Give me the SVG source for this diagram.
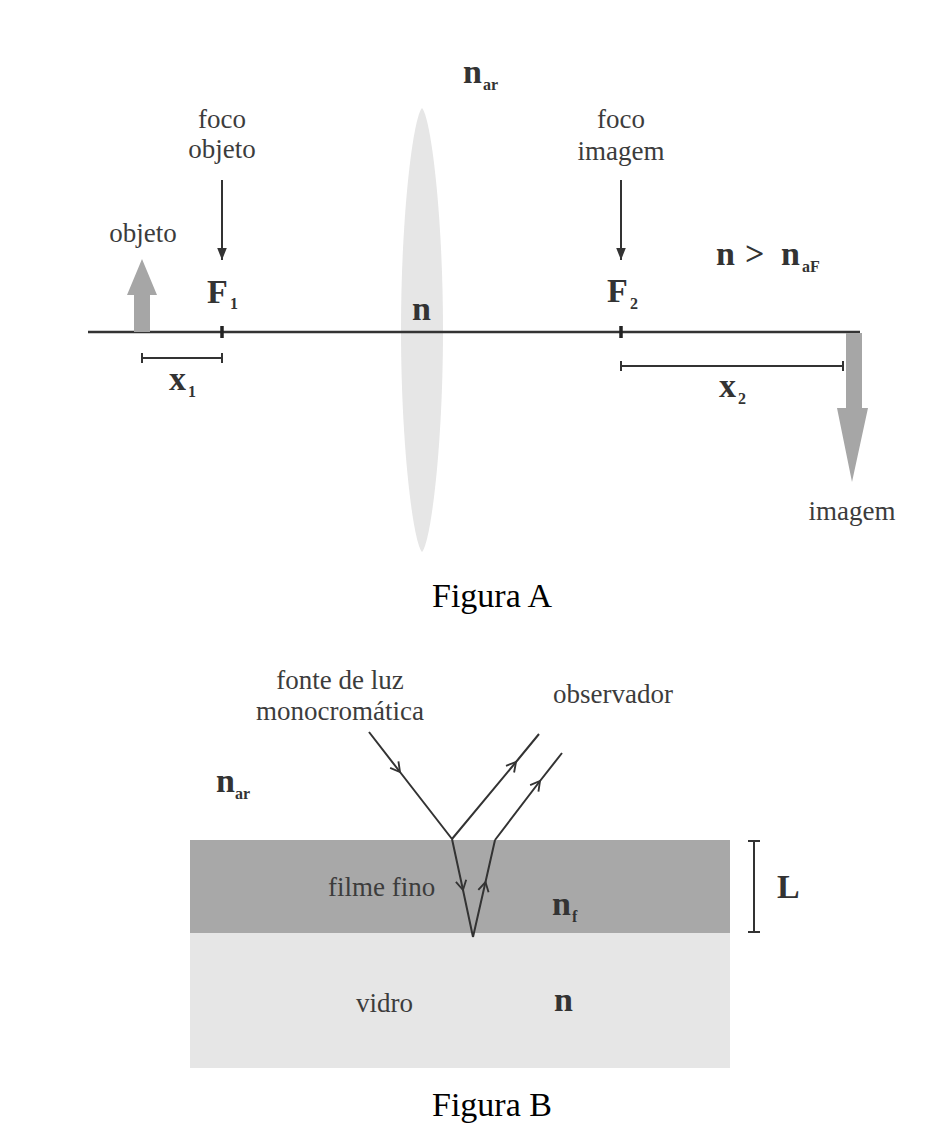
<svg xmlns="http://www.w3.org/2000/svg" width="942" height="1140" viewBox="0 0 942 1140">
<style>
.lbl{font-family:"Liberation Serif","Times New Roman",serif;font-size:27px;fill:#3c3c3c}
.b{font-family:"Liberation Serif","Times New Roman",serif;font-weight:bold;font-size:34px;fill:#333}
.sub{font-family:"Liberation Serif","Times New Roman",serif;font-weight:bold;font-size:16px;fill:#333}
.cap{font-family:"Liberation Serif","Times New Roman",serif;font-size:34px;fill:#000}
.ln{stroke:#333;stroke-width:2;fill:none}
.ray{stroke:#333;stroke-width:2;fill:none;marker-mid:url(#chev)}
.gray{fill:#a6a6a6}
</style>
<defs>
<marker id="tri" markerUnits="userSpaceOnUse" markerWidth="12" markerHeight="12" viewBox="-10 -5 10 10" refX="0" refY="0" orient="auto">
<path d="M-10,-4 L0,0 L-10,4 Z" fill="#333"/>
</marker>
<marker id="chev" markerUnits="userSpaceOnUse" markerWidth="14" markerHeight="14" viewBox="-10 -6 12 12" refX="0" refY="0" orient="auto">
<path d="M-8,-4.5 L0,0 L-8,4.5" fill="none" stroke="#333" stroke-width="1.6"/>
</marker>
</defs>
<rect width="942" height="1140" fill="#fff"/>

<!-- Figura A -->
<g id="lens">
<path d="M422,108 C431,118 443,215 443,330 C443,445 431,542 422,552 C413,542 401,445 401,330 C401,215 413,118 422,108 Z" fill="#e6e6e6"/>
</g>
<g id="axis">
<line x1="88" y1="332" x2="860" y2="332" stroke="#333" stroke-width="2.5"/>
<line x1="222" y1="326" x2="222" y2="338" stroke="#222" stroke-width="3.5"/>
<line x1="621" y1="326" x2="621" y2="338" stroke="#222" stroke-width="3.5"/>
</g>
<g id="objeto-arrow">
<path class="gray" d="M134,332 L134,295 L127,295 L142,259 L157,295 L150,295 L150,332 Z"/>
<text class="lbl" x="143" y="242" text-anchor="middle">objeto</text>
</g>
<g id="imagem-arrow">
<path class="gray" d="M846,333 L862,333 L862,408 L868,408 L852,482 L837,408 L846,408 Z"/>
<text class="lbl" x="852" y="520" text-anchor="middle">imagem</text>
</g>
<g id="n-ar-A">
<text class="b" x="463" y="83">n</text><text class="sub" x="483" y="90">ar</text>
</g>
<g id="foco-objeto">
<text class="lbl" x="222" y="128" text-anchor="middle">foco</text>
<text class="lbl" x="222" y="158" text-anchor="middle">objeto</text>
</g>
<g id="F1">
<text class="b" x="207" y="303">F</text><text class="sub" x="230" y="309">1</text>
</g>
<g id="lens-n">
<text class="b" x="412" y="320">n</text>
</g>
<g id="foco-imagem">
<text class="lbl" x="621" y="128" text-anchor="middle">foco</text>
<text class="lbl" x="621" y="160" text-anchor="middle">imagem</text>
</g>
<g id="F2">
<text class="b" x="607" y="302">F</text><text class="sub" x="630" y="309">2</text>
</g>
<g id="relation">
<text class="b" x="716" y="265">n</text>
<text class="b" x="745" y="265">&gt;</text>
<text class="b" x="781" y="265">n</text>
<text class="sub" x="802" y="272">aF</text>
</g>
<g id="x1">
<line class="ln" x1="142" y1="358" x2="222" y2="358"/>
<line class="ln" x1="142" y1="353" x2="142" y2="363"/>
<line class="ln" x1="222" y1="353" x2="222" y2="363"/>
<text class="b" x="169" y="390">x</text><text class="sub" x="188" y="397">1</text>
</g>
<g id="x2">
<line class="ln" x1="621" y1="366" x2="843" y2="366"/>
<line class="ln" x1="621" y1="361" x2="621" y2="371"/>
<line class="ln" x1="843" y1="361" x2="843" y2="371"/>
<text class="b" x="719" y="397">x</text><text class="sub" x="738" y="404">2</text>
</g>
<g id="caption-A">
<text class="cap" x="492" y="607" text-anchor="middle">Figura A</text>
</g>

<!-- Figura B -->
<g id="filme">
<rect x="190" y="840" width="540" height="93" fill="#a8a8a8"/>
<text class="lbl" x="328" y="896">filme fino</text>
<text class="b" x="552" y="915">n</text><text class="sub" x="572" y="922">f</text>
</g>
<g id="vidro">
<rect x="190" y="933" width="540" height="135" fill="#e6e6e6"/>
<text class="lbl" x="356" y="1012">vidro</text>
<text class="b" x="554" y="1011">n</text>
</g>
<g id="n-ar-B">
<text class="b" x="216" y="792">n</text><text class="sub" x="235" y="799">ar</text>
</g>
<g id="fonte">
<text class="lbl" x="340" y="689" text-anchor="middle">fonte de luz</text>
<text class="lbl" x="340" y="720" text-anchor="middle">monocromática</text>
</g>
<g id="observador">
<text class="lbl" x="553" y="703">observador</text>
</g>
<g id="L">
<line class="ln" x1="754" y1="841" x2="754" y2="932"/>
<line class="ln" x1="748" y1="841" x2="760" y2="841"/>
<line class="ln" x1="748" y1="932" x2="760" y2="932"/>
<text class="b" x="777" y="898">L</text>
</g>
<g id="caption-B">
<text class="cap" x="492" y="1116" text-anchor="middle">Figura B</text>
</g>

<g id="connectors">
<line class="ln" x1="222" y1="180" x2="222" y2="260" marker-end="url(#tri)"/>
<line class="ln" x1="621" y1="180" x2="621" y2="260" marker-end="url(#tri)"/>
<path class="ray" d="M369,732 L400,772 L452,839"/>
<path class="ray" d="M452,839 L516,762 L539,734"/>
<path class="ray" d="M452,839 L463,890 L473,937"/>
<path class="ray" d="M473,937 L485.5,882 L495,840"/>
<path class="ray" d="M495,840 L540,781 L562,753"/>
</g>
</svg>
